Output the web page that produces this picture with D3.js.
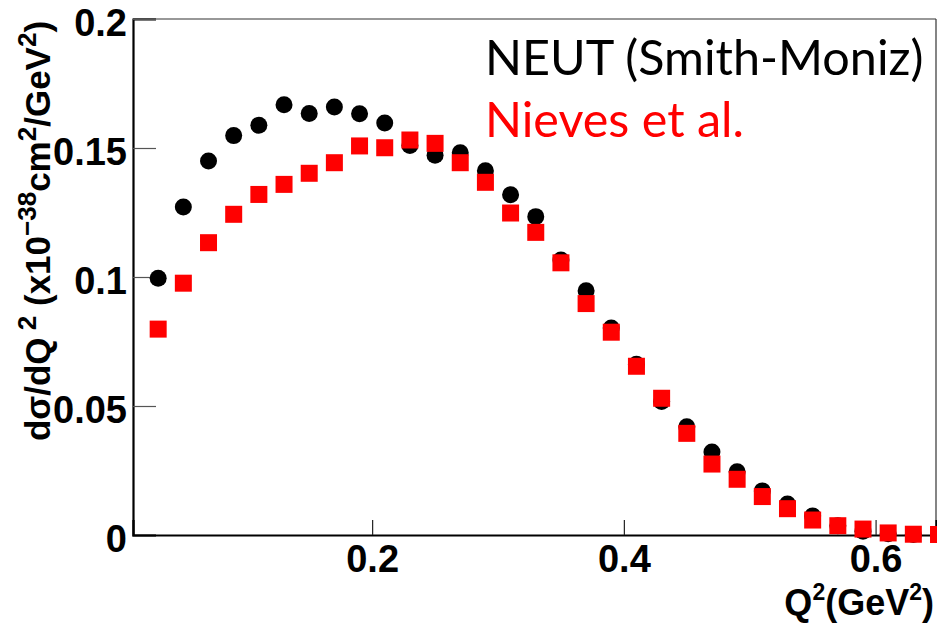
<!DOCTYPE html>
<meta charset="utf-8">
<style>
  body { margin: 0; background: #fff; }
  svg text { font-family: "Liberation Sans", Arial, sans-serif; }
</style>
<script src="https://d3js.org/d3.v7.min.js"></script>
<div id="chart"></div>
<script>
  // bin centres in Q^2 (GeV^2)
  var q2 = [0.03, 0.05, 0.07, 0.09, 0.11, 0.13, 0.15, 0.17, 0.19, 0.21, 0.23,
    0.25, 0.27, 0.29, 0.31, 0.33, 0.35, 0.37, 0.39, 0.41, 0.43, 0.45, 0.47,
    0.49, 0.51, 0.53, 0.55, 0.57, 0.59, 0.61, 0.63, 0.65];

  // NEUT (Smith-Moniz), black circles
  var neut = [0.0995, 0.1271, 0.1450, 0.1548, 0.1588, 0.1668, 0.1634, 0.1659,
    0.1633, 0.1597, 0.1510, 0.1472, 0.1482, 0.1412, 0.1319, 0.1234, 0.1066,
    0.0947, 0.0802, 0.0662, 0.0517, 0.0420, 0.0322, 0.0245, 0.0171, 0.0120,
    0.0074, 0.0036, 0.0015, 0.0005, 0.0002, 0.0001];

  // Nieves et al., red squares
  var nieves = [0.0798, 0.0976, 0.1133, 0.1243, 0.1320, 0.1359, 0.1402, 0.1443,
    0.1508, 0.1501, 0.1531, 0.1518, 0.1443, 0.1367, 0.1248, 0.1173, 0.1055,
    0.0897, 0.0786, 0.0654, 0.0530, 0.0394, 0.0275, 0.0216, 0.0149, 0.0102,
    0.0058, 0.0036, 0.0023, 0.0008, 0.0003, 0.0002];

  var xTicks = [0.2, 0.4, 0.6];
  var yTicks = [0, 0.05, 0.1, 0.15, 0.2];

  var W = 937, H = 624;
  var margin = { top: 19, right: 1, bottom: 89, left: 133 };
  var width = W - margin.left - margin.right,
    height = H - margin.top - margin.bottom;

  var svg = d3.select("#chart").append("svg")
    .attr("width", W).attr("height", H);

  var g = svg.append("g")
    .attr("transform", "translate(" + margin.left + "," + margin.top + ")");

  var x = d3.scaleLinear().domain([0.01, 0.648]).range([0, width]);
  var y = d3.scaleLinear().domain([0, 0.2]).range([height, 0]);

  // frame: thin top/right, heavy left/bottom
  g.append("line").attr("x1", 0).attr("x2", width).attr("y1", 0).attr("y2", 0)
    .attr("stroke", "#333").attr("stroke-width", 1.2);
  g.append("line").attr("x1", width).attr("x2", width).attr("y1", 0).attr("y2", height)
    .attr("stroke", "#333").attr("stroke-width", 1.2);

  // y axis
  var yAxis = g.append("g")
    .call(d3.axisRight(y).tickValues(yTicks).tickSize(23).tickFormat(function (d) { return d; }));
  yAxis.select(".domain").attr("stroke", "#000").attr("stroke-width", 2.2);
  yAxis.selectAll(".tick line").attr("stroke", "#555").attr("stroke-width", 1.2);
  yAxis.selectAll(".tick text")
    .attr("x", -6).attr("dy", "0.44em")
    .attr("text-anchor", "end")
    .style("font-size", "38px").style("font-weight", "bold").attr("fill", "#000");

  // x axis
  var xAxis = g.append("g")
    .attr("transform", "translate(0," + height + ")")
    .call(d3.axisTop(x).tickValues(xTicks).tickSize(15).tickFormat(function (d) { return d; }));
  xAxis.select(".domain").attr("stroke", "#000").attr("stroke-width", 2.2);
  xAxis.selectAll(".tick line").attr("stroke", "#222").attr("stroke-width", 1.2);
  xAxis.selectAll(".tick text")
    .attr("y", 37).attr("dy", 0)
    .attr("text-anchor", "middle")
    .style("font-size", "38px").style("font-weight", "bold").attr("fill", "#000");

  // NEUT points
  g.selectAll("circle.neut")
    .data(q2.map(function (q, i) { return { q: q, v: neut[i] }; }))
    .enter().append("circle")
    .attr("class", "neut")
    .attr("cx", function (d) { return x(d.q); })
    .attr("cy", function (d) { return y(d.v); })
    .attr("r", 8.5)
    .attr("fill", "#000");

  // Nieves points
  var s = 17;
  g.selectAll("rect.nieves")
    .data(q2.map(function (q, i) { return { q: q, v: nieves[i] }; }))
    .enter().append("rect")
    .attr("class", "nieves")
    .attr("x", function (d) { return x(d.q) - s / 2; })
    .attr("y", function (d) { return y(d.v) - s / 2; })
    .attr("width", s).attr("height", s)
    .attr("fill", "#ff0000");

  // x title
  var xt = svg.append("text")
    .attr("x", 934).attr("y", 615)
    .attr("text-anchor", "end")
    .style("font-size", "36px").style("font-weight", "bold");
  xt.append("tspan").text("Q");
  xt.append("tspan").attr("dy", -15).style("font-size", "23px").text("2");
  xt.append("tspan").attr("dy", 15).text("(GeV");
  xt.append("tspan").attr("dy", -15).style("font-size", "23px").text("2");
  xt.append("tspan").attr("dy", 15).text(")");

  // y title
  var yt = svg.append("text")
    .attr("transform", "translate(50,231) rotate(-90)")
    .attr("text-anchor", "middle")
    .style("font-size", "35px").style("font-weight", "bold");
  yt.append("tspan").text("d\u03C3/dQ");
  yt.append("tspan").attr("dy", -14).style("font-size", "26px").text(" 2");
  yt.append("tspan").attr("dy", 14).text(" (x10");
  yt.append("tspan").attr("dy", -14).style("font-size", "26px").text("\u221238");
  yt.append("tspan").attr("dy", 14).text("cm");
  yt.append("tspan").attr("dy", -14).style("font-size", "26px").text("2");
  yt.append("tspan").attr("dy", 14).text("/GeV");
  yt.append("tspan").attr("dy", -14).style("font-size", "26px").text("2");
  yt.append("tspan").attr("dy", 14).text(")");

  // legend text
  var legend = [
    { label: "NEUT (Smith-Moniz)", color: "#000" },
    { label: "Nieves et al.", color: "#ff0000" }
  ];
  svg.selectAll("text.leg")
    .data(legend)
    .enter().append("text")
    .attr("class", "leg")
    .attr("x", 485)
    .attr("y", function (d, i) { return 75 + i * 62; })
    .style("font-family", "Lato, 'Open Sans', sans-serif")
    .style("font-size", "48.5px")
    .attr("fill", function (d) { return d.color; })
    .text(function (d) { return d.label; });
</script>
